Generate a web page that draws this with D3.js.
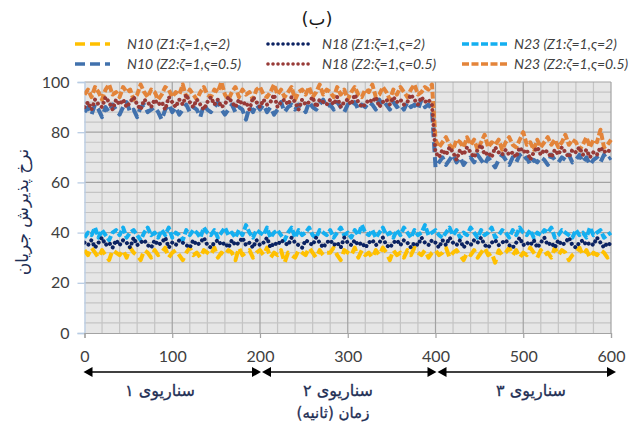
<!DOCTYPE html>
<html><head><meta charset="utf-8">
<script src="https://cdn.jsdelivr.net/npm/d3@7"></script>
<style>
html,body{margin:0;padding:0;background:#fff;}
svg{display:block;}
</style></head>
<body>
<svg id="chart" width="634" height="428"></svg>
<script>
// ---------- data (one sample every 4 s, 0..600 s) ----------
const xTicks = [0,100,200,300,400,500,600];
const yTicks = [0,20,40,60,80,100];
const scenarioLabels = ["سناریوی ۱","سناریوی ۲","سناریوی ۳"];
const scenarioBounds = [0,200,400,600];
const seriesNames = ["N10 (Z1:ζ=1,ς=2)","N18 (Z1:ζ=1,ς=2)","N23 (Z1:ζ=1,ς=2)",
                     "N10 (Z2:ζ=1,ς=0.5)","N18 (Z2:ζ=1,ς=0.5)","N23 (Z2:ζ=1,ς=0.5)"];

const n10z1 = [
33,31,34,32,30,33,31,29,33,32,
31,33,30,34,32,31,29,33,32,30,
33,31,32,34,30,32,33,31,29,32,
34,31,32,30,33,32,31,34,30,32,
31,33,32,29,34,31,32,33,30,32,
33,31,34,30,32,31,33,28,32,31,
30,33,32,31,34,32,30,33,31,32,
32,34,31,29,33,32,31,34,30,33,
31,32,30,33,31,34,32,29,33,31,
32,30,33,31,34,32,31,33,30,32,
33,31,32,34,30,32,33,31,29,32,
31,33,30,32,34,31,32,28,33,31,
32,34,31,33,30,32,31,34,32,30,
33,31,32,30,34,31,33,32,29,31,
32,34,31,33,30,32,31,33,32,30,
32];
const n18z1 = [
36,35,37,34,36,38,35,36,34,37,
35,37,36,34,38,35,36,37,35,34,
37,35,36,38,34,36,35,37,36,35,
34,37,35,36,38,35,34,36,37,35,
36,34,37,35,36,38,35,36,34,37,
35,36,38,34,36,35,37,36,35,38,
36,35,34,37,36,35,38,36,34,36,
37,35,36,34,38,36,35,37,35,36,
34,36,37,35,36,38,35,34,36,37,
35,37,36,34,36,35,38,36,35,37,
36,34,37,35,38,36,35,37,34,36,
35,37,36,38,35,34,36,37,35,36,
37,35,34,36,38,35,36,35,37,34,
36,38,35,36,34,37,35,36,38,35,
34,36,37,35,36,35,38,36,34,36,
35];
const n23z1 = [
38,40,39,42,38,41,39,37,40,41,
39,42,38,40,41,39,37,40,42,39,
40,38,41,39,42,38,40,39,37,41,
39,41,40,38,42,40,39,41,38,40,
42,39,40,38,41,39,43,40,38,41,
40,39,42,38,40,41,39,37,40,42,
38,41,39,40,42,39,38,41,40,39,
41,38,40,42,39,40,38,41,39,43,
40,39,41,38,40,42,39,40,38,41,
39,42,40,38,41,39,40,43,39,40,
41,39,38,40,42,39,41,38,40,39,
42,40,38,41,39,40,42,38,39,41,
40,38,41,39,42,40,39,41,38,40,
39,41,40,42,38,39,41,40,39,38,
41,39,40,38,42,39,40,41,38,39,
40];
const n10z2 = [
88,90,87,91,89,86,90,88,91,89,
87,90,92,88,89,86,90,91,88,89,
90,88,85,89,91,88,90,87,89,91,
88,90,89,86,91,89,88,90,92,89,
87,89,91,88,90,89,85,90,88,91,
89,91,88,90,87,89,92,88,90,91,
89,91,90,88,92,90,89,91,93,90,
91,89,92,90,88,91,90,92,89,91,
90,92,91,89,93,90,91,89,92,90,
91,89,92,90,91,89,93,90,91,89,
66,68,70,67,69,71,68,70,67,69,
70,68,71,69,67,70,68,66,69,71,
69,67,70,68,71,69,70,67,69,68,
70,69,67,71,69,68,70,69,71,68,
69,71,68,70,67,69,70,68,71,69,
70];
const n18z2 = [
90,92,89,93,91,90,94,92,89,93,
91,93,90,92,94,91,89,93,92,90,
93,91,92,89,94,92,90,93,91,95,
92,90,93,91,89,92,94,91,93,90,
91,94,92,90,93,91,92,89,94,92,
90,93,91,92,95,90,92,93,91,94,
92,89,93,91,92,94,90,93,92,91,
93,91,94,90,92,93,91,95,92,90,
91,93,92,94,90,92,93,91,94,92,
93,91,92,95,93,91,94,92,93,91,
72,70,73,71,74,72,69,73,71,74,
72,70,73,75,71,72,70,74,72,71,
73,71,72,70,74,72,73,69,72,74,
71,73,72,70,73,71,74,72,70,73,
72,74,71,73,70,72,71,74,72,73,
72];
const n23z2 = [
95,97,94,98,96,93,97,99,95,96,
94,98,96,97,93,95,99,96,94,97,
96,93,95,98,97,94,96,95,99,94,
97,95,93,96,98,95,94,97,96,100,
95,93,96,98,94,97,95,96,93,97,
98,95,94,96,99,95,97,94,96,98,
93,96,97,95,98,94,96,99,95,97,
96,94,98,95,97,93,96,98,95,94,
97,96,99,94,95,98,96,93,97,95,
98,96,94,97,99,95,96,98,97,99,
77,74,76,78,75,73,77,76,74,78,
75,77,73,76,79,74,76,75,77,73,
76,78,75,74,77,80,75,76,73,77,
74,76,78,75,77,74,76,79,75,77,
76,73,75,78,74,77,76,81,74,75,
77];

// ---------- styles ----------
const styles = [
  {color:"#ffc000", dash:"10 5", cap:"butt"},
  {color:"#0b2262", dash:"0.01 5", cap:"round"},
  {color:"#14aff0", dash:"7 2.5", cap:"butt"},
  {color:"#4171ad", dash:"10 5", cap:"butt"},
  {color:"#983a37", dash:"0.01 5", cap:"round"},
  {color:"#e3843a", dash:"7 2.5", cap:"butt"}
];
const seriesData = [n10z1,n18z1,n23z1,n10z2,n18z2,n23z2];
const drawOrder = [0,2,1,3,5,4];

const svg = d3.select("#chart");
const x = d3.scaleLinear().domain([0,600]).range([84.5,611]);
const y = d3.scaleLinear().domain([0,100]).range([333,82]);

// plot background
svg.append("rect").attr("x",x(0)).attr("y",y(100))
  .attr("width",x(600)-x(0)).attr("height",y(0)-y(100)).attr("fill","#e6e6e6");

// grid
const g = svg.append("g");
g.selectAll(".vmin").data(d3.range(20,600,20).filter(v=>v%100)).join("line")
  .attr("x1",d=>x(d)).attr("x2",d=>x(d)).attr("y1",y(0)).attr("y2",y(100))
  .attr("stroke","#c4c4c4").attr("stroke-width",1.2);
g.selectAll(".hmin").data(d3.range(4,100,4).filter(v=>v%20)).join("line")
  .attr("y1",d=>y(d)).attr("y2",d=>y(d)).attr("x1",x(0)).attr("x2",x(600))
  .attr("stroke","#c4c4c4").attr("stroke-width",1.2);
g.selectAll(".vmaj").data([100,200,300,400,500,600]).join("line")
  .attr("x1",d=>x(d)).attr("x2",d=>x(d)).attr("y1",y(0)).attr("y2",y(100))
  .attr("stroke","#a3a3a3").attr("stroke-width",1.2);
g.selectAll(".hmaj").data([20,40,60,80,100]).join("line")
  .attr("y1",d=>y(d)).attr("y2",d=>y(d)).attr("x1",x(0)).attr("x2",x(600))
  .attr("stroke","#a3a3a3").attr("stroke-width",1.2);

// axes
const yAxis = svg.append("g").attr("transform",`translate(${x(0)},0)`)
  .call(d3.axisLeft(y).tickValues(yTicks).tickSize(7).tickPadding(8));
yAxis.select(".domain").attr("stroke","#b8cce4").attr("stroke-width",1.3);
yAxis.selectAll(".tick line").attr("stroke","#b8cce4").attr("stroke-width",1.3);
yAxis.selectAll("text").attr("font-family","Lato, 'Open Sans', sans-serif")
  .attr("font-size",16).attr("fill","#404040");

const xAxis = svg.append("g").attr("transform",`translate(0,${y(0)})`)
  .call(d3.axisBottom(x).tickValues(xTicks).tickSize(5).tickPadding(13));
xAxis.select(".domain").attr("stroke","#a3a3a3").attr("stroke-width",1.2);
xAxis.selectAll(".tick line").attr("stroke","#a3a3a3").attr("stroke-width",1.2);
xAxis.selectAll("text").attr("font-family","Lato, 'Open Sans', sans-serif")
  .attr("font-size",16).attr("fill","#404040");

// series
svg.append("clipPath").attr("id","clip").append("rect")
  .attr("x",x(0)).attr("y",y(100)-3).attr("width",x(600)-x(0)+3).attr("height",y(0)-y(100)+3);
const lines = svg.append("g").attr("clip-path","url(#clip)");
drawOrder.forEach(k=>{
  const vals = seriesData[k];
  const n = vals.length;
  const line = d3.line().x((d,i)=>x(i*600/(n-1))).y(d=>y(d));
  lines.append("path").datum(vals).attr("d",line)
    .attr("fill","none").attr("stroke",styles[k].color)
    .attr("stroke-width",4).attr("stroke-dasharray",styles[k].dash)
    .attr("stroke-linecap",styles[k].cap).attr("stroke-linejoin","round");
});

// legend
const legCols = [[75,110,127],[268,310,322],[462,508,514]];
const legRows = [44,64];
const leg = svg.append("g");
seriesNames.forEach((name,k)=>{
  const c = legCols[k%3], r = legRows[Math.floor(k/3)];
  leg.append("line").attr("x1",c[0]).attr("x2",c[1]).attr("y1",r).attr("y2",r)
    .attr("stroke",styles[k].color).attr("stroke-width",3.6)
    .attr("stroke-dasharray",styles[k].dash).attr("stroke-linecap",styles[k].cap);
  leg.append("text").attr("x",c[2]).attr("y",r+5).text(name)
    .attr("font-family","Lato, 'Open Sans', sans-serif").attr("font-style","italic")
    .attr("font-size",14).attr("fill","#404040");
});

// title
svg.append("text").attr("x",317).attr("y",25).attr("text-anchor","middle")
  .attr("font-family","'DejaVu Sans', sans-serif").attr("font-size",18).attr("fill","#1a1a1a")
  .attr("direction","rtl").text("(ب)");

// y-axis title
svg.append("text").attr("transform",`translate(28,${212}) rotate(-90)`)
  .attr("text-anchor","middle").attr("direction","rtl")
  .attr("font-family","'DejaVu Sans', sans-serif").attr("font-size",17)
  .attr("fill","#1f2f55").text("نرخ پذیرش جریان");

// scenario arrows
const arrowY = 372;
const arr = svg.append("g");
const head = (xt, dir) => `M${xt},${arrowY} L${xt-dir*9},${arrowY-5} L${xt-dir*9},${arrowY+5} Z`;
for (let s=0; s<3; s++){
  const a = x(scenarioBounds[s]) + (s===0? -1 : 2);
  const b = x(scenarioBounds[s+1]) + (s===2? 5 : 1);
  arr.append("line").attr("x1",a+6).attr("x2",b-6).attr("y1",arrowY).attr("y2",arrowY)
    .attr("stroke","#000").attr("stroke-width",1.6);
  arr.append("path").attr("d",head(a,-1)).attr("fill","#000");
  arr.append("path").attr("d",head(b,1)).attr("fill","#000");
}
const labelX = [160,338,531];
scenarioLabels.forEach((t,i)=>{
  svg.append("text").attr("x",labelX[i]).attr("y",396).attr("text-anchor","middle")
    .attr("direction","rtl").attr("font-family","'DejaVu Sans', sans-serif")
    .attr("font-size",16).attr("fill","#1f2f55").attr("stroke","#1f2f55").attr("stroke-width",0.3)
    .text(t);
});
svg.append("text").attr("x",333).attr("y",418).attr("text-anchor","middle")
  .attr("direction","rtl").attr("font-family","'DejaVu Sans', sans-serif")
  .attr("font-size",15).attr("fill","#1f2f55").attr("stroke","#1f2f55").attr("stroke-width",0.3)
  .text("زمان (ثانیه)");
</script>
</body></html>
